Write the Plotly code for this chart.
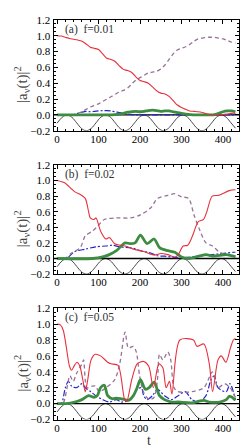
import plotly.graph_objects as go

W, H = 248, 447

# ---------------- data ----------------
t_grid = list(range(0, 431, 10))

# panel (a) f=0.01
red_a = [1.0, 0.995, 0.98, 0.965, 0.955, 0.945, 0.93, 0.895, 0.855, 0.84, 0.825, 0.77, 0.715, 0.70,
         0.675, 0.62, 0.575, 0.56, 0.535, 0.48, 0.435, 0.42, 0.40, 0.355, 0.305, 0.275, 0.265, 0.235,
         0.18, 0.125, 0.095, 0.07, 0.05, 0.045, 0.04, 0.03, 0.015, 0.005, 0.0, 0.0, 0.005, 0.01, 0.02, 0.02]
dash_a = [0, 0, 0, 0, 0.005, 0.02, 0.04, 0.07, 0.1, 0.12, 0.14, 0.17, 0.2, 0.23, 0.26, 0.29, 0.31, 0.34,
          0.39, 0.44, 0.47, 0.5, 0.53, 0.54, 0.55, 0.58, 0.63, 0.7, 0.77, 0.82, 0.84, 0.86, 0.89, 0.93,
          0.96, 0.97, 0.98, 0.98, 0.98, 0.97, 0.96, 0.94, 0.92, 0.91]
blue_a = [0, 0, 0, 0, 0.003, 0.02, 0.035, 0.045, 0.04, 0.045, 0.05, 0.055, 0.055, 0.05, 0.04, 0.03,
          0.02, 0.01, 0.005, 0, 0, 0, 0, 0, 0, 0, 0, 0, 0, 0, 0, 0, 0, 0, 0, 0, 0, 0, 0, 0, 0, 0, 0, 0]
green_a = [0, 0, 0, 0, 0, 0, 0, 0, 0, 0, 0, 0, 0, 0, 0.005, 0.01, 0.02, 0.035, 0.04, 0.045, 0.04, 0.045,
           0.055, 0.06, 0.055, 0.045, 0.05, 0.05, 0.04, 0.03, 0.02, 0.01, 0.005, 0, 0, 0, 0, 0, 0.005,
           0.02, 0.04, 0.05, 0.05, 0.04]

# panel (b) f=0.02
red_b_t = [0, 18, 35, 44, 56, 68, 76, 80, 89, 94, 105, 118, 126, 139, 164, 184, 209, 234, 251, 267,
           284, 291, 304, 315, 328, 340, 353, 361, 374, 390, 415, 430]
red_b_v = [1.0, 0.97, 0.89, 0.85, 0.82, 0.77, 0.6, 0.52, 0.50, 0.52, 0.35, 0.25, 0.27, 0.19, 0.16,
           0.12, 0.09, 0.045, 0.065, 0.05, 0.02, 0.04, 0.16, 0.17, 0.31, 0.47, 0.50, 0.6, 0.8, 0.81,
           0.87, 0.88]
dash_b_t = [0, 18, 35, 56, 68, 85, 97, 114, 143, 176, 201, 226, 242, 267, 284, 300, 317, 330, 342,
            359, 375, 392, 417, 430]
dash_b_v = [0, 0.0, 0.07, 0.14, 0.29, 0.35, 0.41, 0.50, 0.52, 0.52, 0.56, 0.65, 0.77, 0.81, 0.83,
            0.79, 0.77, 0.56, 0.39, 0.2, 0.16, 0.08, 0.04, 0.03]
blue_b_t = [0, 22, 43, 68, 93, 118, 134, 151, 184, 201, 226, 242, 259, 292, 325, 359, 392, 425, 430]
blue_b_v = [0, 0, 0.09, 0.12, 0.15, 0.16, 0.17, 0.15, 0.13, 0.1, 0.07, 0.035, 0.03, 0.01, 0.02,
            0.04, 0.06, 0.08, 0.08]
green_b_t = [0, 85, 110, 126, 143, 164, 176, 188, 201, 217, 234, 247, 267, 284, 300, 317, 342, 359,
             375, 392, 408, 425, 430]
green_b_v = [0, 0, 0.02, 0.05, 0.1, 0.2, 0.19, 0.2, 0.3, 0.19, 0.25, 0.14, 0.1, 0.08, 0.02, 0.0,
             0.03, 0.05, 0.03, 0.04, 0.05, 0.03, 0.02]

# panel (c) f=0.05
red_c_t = [0, 8, 15, 22, 30, 35, 42, 48, 55, 62, 68, 74, 82, 92, 105, 122, 130, 147, 163, 168, 180,
           193, 209, 221, 232, 242, 246, 255, 263, 271, 277, 296, 329, 337, 354, 367, 375, 388, 396,
           407, 418, 425, 430]
red_c_v = [1.0, 0.99, 0.92, 0.72, 0.47, 0.42, 0.48, 0.52, 0.47, 0.3, 0.15, 0.3, 0.55, 0.62, 0.6,
           0.52, 0.5, 0.48, 0.05, 0.03, 0.3, 0.5, 0.53, 0.47, 0.2, 0.45, 0.5, 0.45, 0.2, 0.28, 0.12,
           0.8, 0.8, 0.72, 0.75, 0.5, 0.15, 0.55, 0.6, 0.52, 0.7, 0.8, 0.82]
dash_c_t = [0, 14, 31, 39, 47, 60, 64, 72, 85, 93, 101, 118, 139, 151, 164, 172, 184, 191, 199, 208,
            222, 234, 242, 247, 255, 267, 274, 282, 292, 325, 354, 374, 379, 388, 404, 417, 430]
dash_c_v = [0, 0.0, 0.35, 0.28, 0.38, 0.5, 0.55, 0.2, 0.22, 0.22, 0.15, 0.2, 0.3, 0.5, 0.9, 0.7,
            0.72, 0.65, 0.35, 0.15, 0.05, 0.08, 0.3, 0.62, 0.55, 0.65, 0.55, 0.2, 0.15, 0.15, 0.2,
            0.4, 0.35, 0.2, 0.25, 0.2, 0.08]
blue_c_t = [0, 10, 20, 27, 35, 47, 60, 68, 81, 93, 110, 126, 143, 155, 176, 193, 203, 209, 217, 230,
            242, 259, 276, 292, 309, 325, 342, 359, 371, 379, 388, 408, 417, 430]
blue_c_v = [0, 0, 0.2, 0.28, 0.22, 0.2, 0.25, 0.2, 0.15, 0.1, 0.05, 0.02, 0.05, 0.02, 0.05, 0.18,
            0.2, 0.1, 0.05, 0.1, 0.18, 0.1, 0.05, 0.1, 0.15, 0.05, 0.02, 0.1, 0.3, 0.35, 0.2, 0.15,
            0.25, 0.05]
green_c_t = [0, 22, 43, 60, 76, 89, 97, 105, 114, 122, 134, 143, 155, 164, 172, 184, 193, 201, 213,
             222, 234, 247, 259, 276, 292, 325, 342, 354, 367, 392, 408, 415, 422, 430]
green_c_v = [0, 0.0, 0.02, 0.05, 0.1, 0.08, 0.1, 0.2, 0.23, 0.1, 0.06, 0.07, 0.06, 0.05, 0.04, 0.1,
             0.2, 0.3, 0.18, 0.2, 0.27, 0.1, 0.05, 0.02, 0.02, 0.01, 0.03, 0.04, 0.02, 0.02, 0.05,
             0.09, 0.08, 0.04]

# drive field read at eighth-period points (same in all panels)
drive_t = [0, 12.4, 24, 35.6, 47.3, 58.9, 70.5, 82.1, 93.8, 105.4, 117, 128.6, 140.3, 151.9, 163.5,
           175.1, 186.8, 198.4, 210, 221.6, 233.3, 244.9, 256.5, 268.1, 279.8, 291.4, 303, 314.6,
           326.3, 337.9, 349.5, 361.1, 372.8, 384.4, 396, 407.6, 419.3, 430]
drive_v = [-0.105, -0.029, 0, -0.029, -0.1, -0.171, -0.2, -0.171, -0.1, -0.029, 0, -0.029, -0.1,
           -0.171, -0.2, -0.171, -0.1, -0.029, 0, -0.029, -0.1, -0.171, -0.2, -0.171, -0.1, -0.029,
           0, -0.029, -0.1, -0.171, -0.2, -0.171, -0.1, -0.029, 0, -0.029, -0.1, -0.167]

panel_labels = ["(a)  f=0.01", "(b)  f=0.02", "(c)  f=0.05"]
x_ticks = [0, 100, 200, 300, 400]
y_ticks = [-0.2, 0.0, 0.2, 0.4, 0.6, 0.8, 1.0, 1.2]

# ---------------- style ----------------
RED = "rgb(232,48,60)"
PURPLE = "rgb(150,115,150)"
BLUE = "rgb(35,35,205)"
GREEN = "rgb(60,140,65)"
FONT = "Liberation Serif"

boxes = [(6, 120), (155, 267.3), (302.3, 416.7)]
x0px, x1px = 45.5, 231

fig = go.Figure()

panels = [
    (t_grid, red_a, t_grid, dash_a, t_grid, blue_a, t_grid, green_a),
    (red_b_t, red_b_v, dash_b_t, dash_b_v, blue_b_t, blue_b_v, green_b_t, green_b_v),
    (red_c_t, red_c_v, dash_c_t, dash_c_v, blue_c_t, blue_c_v, green_c_t, green_c_v),
]

for i, (rt, rv, dt, dv, bt, bv, gt, gv) in enumerate(panels):
    xa = "x" if i == 0 else f"x{i+1}"
    ya = "y" if i == 0 else f"y{i+1}"
    common = dict(xaxis=xa, yaxis=ya, mode="lines", showlegend=False, hoverinfo="skip")
    fig.add_trace(go.Scatter(x=drive_t, y=drive_v, line=dict(color="#333", width=0.9, shape="spline", smoothing=1.0), **common))
    fig.add_trace(go.Scatter(x=[-8.6, 438.6], y=[0, 0], line=dict(color="black", width=1.3), **common))
    fig.add_trace(go.Scatter(x=bt, y=bv, line=dict(color=BLUE, width=1.2, dash="6px,2px,2px,2px", shape="spline", smoothing=0.8), **common))
    fig.add_trace(go.Scatter(x=dt, y=dv, line=dict(color=PURPLE, width=1.3, dash="4px,3px", shape="spline", smoothing=0.8), **common))
    fig.add_trace(go.Scatter(x=gt, y=gv, line=dict(color=GREEN, width=2.8, shape="spline", smoothing=0.8), **common))
    fig.add_trace(go.Scatter(x=rt, y=rv, line=dict(color=RED, width=1.1, shape="spline", smoothing=0.8), **common))

    top, bot = boxes[i]
    axis_common = dict(showline=True, linecolor="black", linewidth=1, mirror="allticks",
                       ticks="inside", ticklen=4, tickcolor="black", showgrid=False, zeroline=False,
                       tickfont=dict(family=FONT, size=11, color="black"))
    fig.layout[("xaxis" if i == 0 else f"xaxis{i+1}")] = dict(
        domain=[x0px / W, x1px / W], anchor=ya, range=[-8.6, 438.6], tickvals=x_ticks,
        ticklabelstandoff=-2,
        minor=dict(dtick=20, ticks="inside", ticklen=2, tickcolor="black"), **axis_common)
    fig.layout[("yaxis" if i == 0 else f"yaxis{i+1}")] = dict(
        domain=[1 - bot / H, 1 - top / H], anchor=xa, range=[-0.2, 1.2], tickvals=y_ticks,
        tickformat=".1f", minor=dict(dtick=0.05, ticks="inside", ticklen=2, tickcolor="black"),
        **axis_common)

    fig.add_annotation(x=55 / W, y=1 - (top + 9.5) / H, xref="paper", yref="paper",
                       text=panel_labels[i], showarrow=False, xanchor="left", yanchor="middle",
                       font=dict(family=FONT, size=11.5, color="#333"))
    fig.add_annotation(x=14 / W, y=1 - ((top + bot) / 2 + 10) / H, xref="paper", yref="paper",
                       text="|a<sub>ν</sub>(t)|<sup>2</sup>", textangle=-90, showarrow=False,
                       xanchor="center", yanchor="middle",
                       font=dict(family=FONT, size=15, color="#444"))

fig.add_annotation(x=141 / W, y=0, xref="paper", yref="paper", text="t", showarrow=False,
                   xanchor="center", yanchor="bottom", borderpad=0,
                   font=dict(family=FONT, size=14, color="#333"))

fig.update_layout(width=W, height=H, margin=dict(l=0, r=0, t=0, b=0),
                  paper_bgcolor="white", plot_bgcolor="white")

fig.write_html("out.html")
